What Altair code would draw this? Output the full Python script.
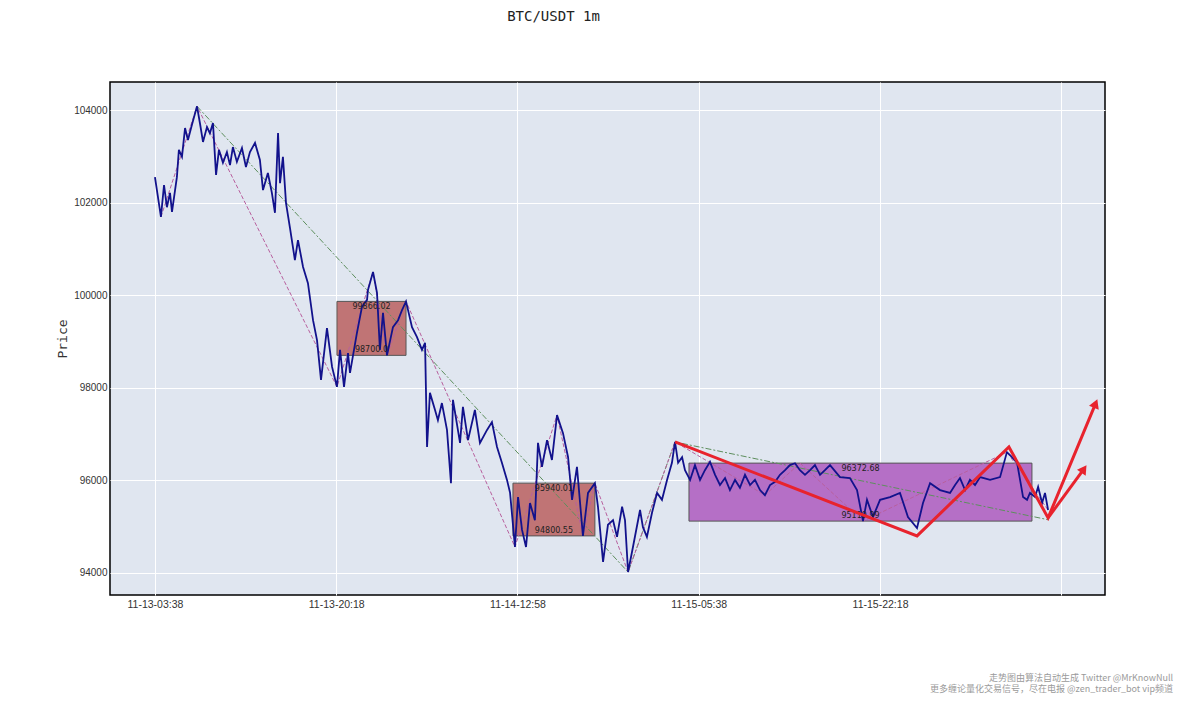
import altair as alt
import pandas as pd

# ---- price series (minutes after 11-13 03:38, price) ----
price_minute = [0,33,50,66,83,94,121,132,149,166,182,204,232,248,265,287,303,320,337,353,375,397,414,430,452,480,502,524,552,579,596,623,645,662,679,690,706,723,745,772,789,817,844,872,894,916,949,977,1004,1021,1043,1065,1076,1114,1142,1170,1175,1203,1225,1241,1258,1280,1313,1341,1363,1385,1418,1445,1473,1490,1501,1517,1545,1561,1583,1611,1633,1644,1683,1699,1727,1765,1793,1832,1859,1887,1914,1942,1959,1986,2003,2025,2047,2069,2096,2113,2135,2163,2190,2218,2251,2279,2301,2328,2361,2389,2427,2444,2472,2499,2527,2549,2577,2593,2610,2637,2676,2692,2714,2742,2770,2797,2825,2852,2869,2886,2908,2924,2952,2979,3007,3034,3062,3090,3117,3145,3172,3200,3227,3255,3283,3310,3338,3365,3393,3421,3448,3476,3503,3531,3558,3586,3614,3641,3669,3696,3724,3779,3834,3873,3906,3928,3961,4000,4055,4110,4154,4204,4237,4276,4331,4386,4414,4441,4469,4496,4524,4552,4607,4662,4700,4728,4756,4789,4811,4827,4855,4872,4894,4910,4927]
price_value = [102550,101690,102380,101900,102210,101800,102550,103140,102990,103610,103350,103680,104080,103720,103310,103630,103500,103720,102600,103140,102860,103090,102810,103200,102880,103180,102770,103090,103290,102920,102270,102640,102210,101780,103500,102420,102990,101990,101450,100760,101190,100610,100260,99460,99030,98170,99290,98450,98020,98820,98020,98750,98320,99180,99750,99900,100110,100500,100050,98820,99620,98700,99310,99460,99680,99866,99310,99100,98820,98970,96720,97890,97520,97300,97670,97090,95940,97740,96810,97590,96870,97520,96810,97090,97260,96720,96380,96010,95730,94560,95640,94930,94560,95510,95140,96810,96290,96870,96440,97410,97020,96500,95580,96290,94800,95730,95940,95430,94240,95040,95140,94780,95430,95140,94020,94560,95360,94990,94780,95300,95730,95580,96010,96380,96830,96380,96500,96220,96010,96330,96010,96220,96400,96120,95900,96050,95790,96010,95840,96120,95900,96010,95790,95680,95900,95970,96120,96220,96330,96370,96220,96120,96220,96330,96120,96220,96330,96070,96050,95790,95120,95580,95210,95580,95640,95730,95210,94970,95510,95940,95790,95730,95900,96050,95790,96010,95900,96070,96010,96070,96610,96500,96380,95640,95580,95730,95640,95860,95510,95730,95360]

# ---- stroke (bi) vertices ----
bi_minute = [33, 232, 1004, 1203, 1280, 1385, 1986, 2218, 2361, 2427, 2610, 2869, 3365, 3558, 3906, 4700, 4927]
bi_value = [101690, 104080, 98020, 100500, 98700, 99866, 94560, 97410, 94800, 95940, 94020, 96830, 95680, 96373, 95120, 96610, 95360]

# ---- segment vertices ----
seg_minute = [232, 2610, 2869, 4927]
seg_value = [104080, 94020, 96830, 95150]

# ---- pivot boxes ----
box_start = [1004, 1975, 2946]
box_end = [1385, 2427, 4838]
box_low = [98700.0, 94800.55, 95119.99]
box_high = [99866.02, 95940.01, 96372.68]
box_kind = ["bi", "bi", "seg"]

# ---- forecast path ----
fc_minute = [2869, 4204, 4711, 4927, 5186]
fc_value = [96830, 94800, 96720, 95190, 97630]
fc2_minute = [4927, 5120]
fc2_value = [95190, 96220]

x_tick_minutes = [0, 1000, 2000, 3000, 4000, 5000]
x_tick_labels = ["11-13-03:38", "11-13-20:18", "11-14-12:58", "11-15-05:38", "11-15-22:18", ""]
y_ticks = [94000, 96000, 98000, 100000, 102000, 104000]

watermark = ["走势图由算法自动生成  Twitter @MrKnowNull",
             "更多缠论量化交易信号，尽在电报 @zen_trader_bot vip频道"]

label_expr = "''"
for v, l in reversed(list(zip(x_tick_minutes, x_tick_labels))):
    label_expr = f"datum.value == {v} ? '{l}' : ({label_expr})"

W, H = 995, 513
xs = alt.Scale(domain=[-248, 5241], nice=False, zero=False)
ys = alt.Scale(domain=[93524, 104605], nice=False, zero=False)

X = alt.X("m:Q", scale=xs, axis=alt.Axis(values=x_tick_minutes, labelExpr=label_expr, title=None,
                                          labelFont="Liberation Sans", labelFontSize=10.5, labelColor="#333",
                                          labelPadding=4))
Y = alt.Y("p:Q", scale=ys, axis=alt.Axis(values=y_ticks, format="d", title="Price", labelFont="Liberation Sans",
                                          labelFontSize=10, labelColor="#333", labelPadding=3,
                                          titleFont="DejaVu Sans Mono", titleFontSize=13, titleFontWeight="normal",
                                          titleColor="#333", titlePadding=4))

price_df = pd.DataFrame({"m": price_minute, "p": price_value})
bi_df = pd.DataFrame({"m": bi_minute, "p": bi_value})
seg_df = pd.DataFrame({"m": seg_minute, "p": seg_value})
box_df = pd.DataFrame({"m": box_start, "m2": box_end, "p": box_low, "p2": box_high, "kind": box_kind})
box_df["hi"] = ["%.2f" % v for v in box_high]
box_df["lo"] = [("%.1f" % v) if v == int(v) else ("%.2f" % v) for v in box_low]
box_df["mc"] = (box_df["m"] + box_df["m2"]) / 2
fc_df = pd.DataFrame({"m": fc_minute, "p": fc_value})
fc2_df = pd.DataFrame({"m": fc2_minute, "p": fc2_value})

boxes = alt.Chart(box_df).mark_rect(stroke="#555555", strokeWidth=1, opacity=1).encode(
    x=X, x2="m2:Q", y=Y, y2="p2:Q",
    fill=alt.Fill("kind:N", scale=alt.Scale(domain=["bi", "seg"], range=["#C07475", "#B56FC6"]), legend=None))

box_hi_txt = alt.Chart(box_df).mark_text(fontSize=8, font="DejaVu Sans", color="#222", baseline="top", dy=2).encode(
    x=alt.X("mc:Q", scale=xs), y=alt.Y("p2:Q", scale=ys), text="hi:N")
box_lo_txt = alt.Chart(box_df).mark_text(fontSize=8, font="DejaVu Sans", color="#222", baseline="bottom", dy=-1).encode(
    x=alt.X("mc:Q", scale=xs), y=alt.Y("p:Q", scale=ys), text="lo:N")

seg_line = alt.Chart(seg_df).mark_line(color="#5E8F5E", strokeWidth=1, strokeDash=[6, 2, 2, 2]).encode(x=X, y=Y)
bi_line = alt.Chart(bi_df).mark_line(color="#B8609E", strokeWidth=1, strokeDash=[4, 2]).encode(x=X, y=Y)
price_line = alt.Chart(price_df).mark_line(color="#12128C", strokeWidth=1.8).encode(x=X, y=Y, order="m:Q")

fc_line = alt.Chart(fc_df).mark_line(color="#E8232D", strokeWidth=3).encode(x=X, y=Y, order="m:Q")
fc2_line = alt.Chart(fc2_df).mark_line(color="#E8232D", strokeWidth=3).encode(x=X, y=Y, order="m:Q")
head1 = alt.Chart(fc_df.tail(1)).mark_point(shape="triangle", filled=True, color="#E8232D", size=110,
                                            angle=22.6, opacity=1).encode(x=X, y=Y)
head2 = alt.Chart(fc2_df.tail(1)).mark_point(shape="triangle", filled=True, color="#E8232D", size=110,
                                             angle=34.5, opacity=1).encode(x=X, y=Y)

wm1 = alt.Chart(pd.DataFrame({"t": [watermark[0]]})).mark_text(
    align="right", baseline="alphabetic", fontSize=9, font="Noto Sans CJK SC", color="#9a9a9a").encode(
    text="t:N", x=alt.value(W + 68), y=alt.value(H + 86))
wm2 = alt.Chart(pd.DataFrame({"t": [watermark[1]]})).mark_text(
    align="right", baseline="alphabetic", fontSize=9, font="Noto Sans CJK SC", color="#9a9a9a").encode(
    text="t:N", x=alt.value(W + 68), y=alt.value(H + 97))

chart = alt.layer(boxes, seg_line, bi_line, price_line, box_hi_txt, box_lo_txt,
                  fc_line, fc2_line, head1, head2, wm1, wm2).properties(
    width=W, height=H, background="white",
    title=alt.TitleParams("BTC/USDT 1m", font="DejaVu Sans Mono", fontSize=14, fontWeight="normal",
                          color="#222", anchor="middle", dx=-54, offset=58),
    padding={"left": 48, "top": 2, "right": 5, "bottom": 5},
).configure_view(fill="#E0E6F0", stroke="black", strokeWidth=1.5).configure_axis(
    grid=True, gridColor="white", gridWidth=1, domain=False, ticks=False
)

chart.save("out.html", embed_options={"renderer": "svg", "actions": False})
